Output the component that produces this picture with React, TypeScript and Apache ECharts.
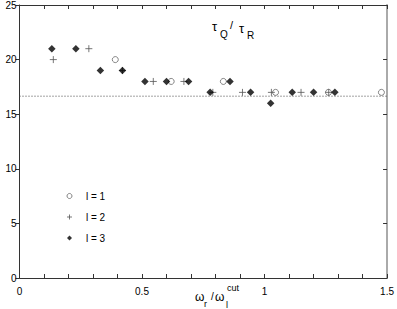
import React, { useEffect, useRef } from 'react';
import * as echarts from 'echarts';

const l1X = [0.391, 0.619, 0.832, 1.045, 1.261, 1.477];
const l1Y = [20, 18, 18, 17, 17, 17];
const l2X = [0.138, 0.283, 0.42, 0.546, 0.671, 0.789, 0.91, 1.028, 1.149, 1.262];
const l2Y = [20, 21, 19, 18, 18, 17, 17, 17, 17, 17];
const l3X = [0.132, 0.23, 0.33, 0.42, 0.512, 0.6, 0.69, 0.778, 0.859, 0.943, 1.025, 1.113, 1.2, 1.287];
const l3Y = [21, 21, 19, 19, 18, 18, 18, 17, 18, 17, 16, 17, 17, 17];
const seriesNames = ['l = 1', 'l = 2', 'l = 3'];
const refLevel = 16.65;
const xMin = 0;
const xMax = 1.5;
const yMin = 0;
const yMax = 25;

const FONT = '"Liberation Sans", Arial, sans-serif';
const zip = (xs: number[], ys: number[]) => xs.map((x, i) => [x, ys[i]]);

export default function App() {
  const ref = useRef<HTMLDivElement>(null);
  useEffect(() => {
    if (!ref.current) return;
    const chart = echarts.init(ref.current, undefined, { renderer: 'svg' });
    const axisColor = '#333';
    const txt = (text: string, x: number, y: number, size: number) => ({
      type: 'text',
      x,
      y,
      style: { text, font: `${size}px ${FONT}`, fill: '#000', textVerticalAlign: 'middle', textAlign: 'left' },
    });
    chart.setOption({
      animation: false,
      backgroundColor: '#fff',
      grid: { left: 19.5, right: 7, top: 5, bottom: 31, containLabel: false },
      legend: {
        data: [
          { name: seriesNames[0], itemStyle: { color: 'rgba(0,0,0,0)', borderColor: '#666', borderWidth: 1 } },
          { name: seriesNames[1], itemStyle: { color: 'rgba(0,0,0,0)', borderColor: '#555', borderWidth: 1 } },
          { name: seriesNames[2], itemStyle: { color: '#000', borderWidth: 0 } },
        ],
        orient: 'vertical',
        left: 61.5,
        top: 186,
        itemWidth: 5,
        itemHeight: 5,
        itemGap: 11,
        textStyle: { fontSize: 10, fontFamily: FONT, color: '#000', padding: [0, 0, 0, 9] },
        selectedMode: false,
      },
      xAxis: [
        {
          type: 'value', min: xMin, max: xMax, interval: 0.5, position: 'bottom',
          axisLine: { show: true, onZero: false, lineStyle: { color: axisColor, width: 1 } },
          axisTick: { show: true, inside: true, length: 4, lineStyle: { color: axisColor } },
          minorTick: { show: true, splitNumber: 5, length: 4, lineStyle: { color: axisColor } },
          axisLabel: { show: true, fontSize: 10, fontFamily: FONT, color: '#000', margin: 8, showMaxLabel: true, showMinLabel: true },
          splitLine: { show: false },
        },
        {
          type: 'value', min: xMin, max: xMax, interval: 0.5, position: 'top',
          axisLine: { show: true, onZero: false, lineStyle: { color: axisColor, width: 1 } },
          axisTick: { show: true, inside: true, length: 4, lineStyle: { color: axisColor } },
          minorTick: { show: true, splitNumber: 5, length: 4, lineStyle: { color: axisColor } },
          axisLabel: { show: false },
          splitLine: { show: false },
        },
      ],
      yAxis: [
        {
          type: 'value', min: yMin, max: yMax, interval: 5, position: 'left',
          axisLine: { show: true, onZero: false, lineStyle: { color: axisColor, width: 1 } },
          axisTick: { show: true, inside: false, length: 4, lineStyle: { color: axisColor } },
          axisLabel: { fontSize: 10, fontFamily: FONT, color: '#000', margin: 3 },
          splitLine: { show: false },
        },
        {
          type: 'value', min: yMin, max: yMax, interval: 5, position: 'right',
          axisLine: { show: true, onZero: false, lineStyle: { color: '#aaa', width: 2 } },
          axisTick: { show: true, inside: true, length: 4, lineStyle: { color: axisColor } },
          axisLabel: { show: false },
          splitLine: { show: false },
        },
      ],
      series: [
        {
          name: 'ref', type: 'line', data: [[xMin, refLevel], [xMax, refLevel]],
          symbol: 'none', silent: true,
          lineStyle: { type: [1, 2], width: 1, color: '#444' },
        },
        {
          name: seriesNames[0], type: 'scatter', data: zip(l1X, l1Y),
          symbol: 'circle', symbolSize: 6,
          itemStyle: { color: 'rgba(0,0,0,0)', borderColor: '#666', borderWidth: 1 },
        },
        {
          name: seriesNames[1], type: 'scatter', data: zip(l2X, l2Y),
          symbol: 'path://M4,0L4,8M0,4L8,4', symbolSize: 7,
          itemStyle: { color: 'rgba(0,0,0,0)', borderColor: '#555', borderWidth: 1 },
        },
        {
          name: seriesNames[2], type: 'scatter', data: zip(l3X, l3Y),
          symbol: 'diamond', symbolSize: 7.5,
          itemStyle: { color: '#000' },
        },
      ],
      graphic: [
        txt('τ', 212, 26, 13),
        txt('Q', 220, 34, 10),
        txt('/', 230, 25, 11),
        txt('τ', 239, 28, 13),
        txt('R', 247, 35, 10),
        txt('ω', 195, 297, 12),
        txt('r', 204, 304, 9),
        txt('/', 211, 296, 10),
        txt('ω', 215, 297, 12),
        txt('l', 226, 305, 9),
        txt('cut', 227, 288, 9),
      ],
    });
    return () => chart.dispose();
  }, []);
  return <div ref={ref} style={{ position: 'fixed', left: 0, top: 0, width: 397, height: 309 }} />;
}
